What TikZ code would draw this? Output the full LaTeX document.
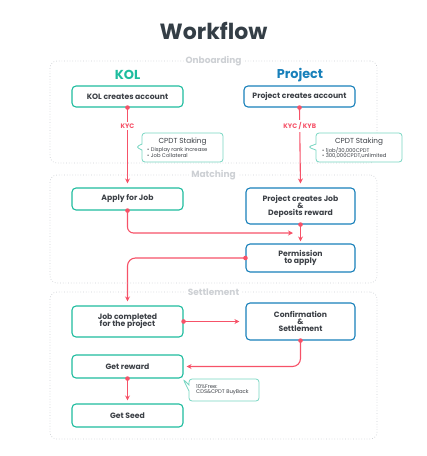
\documentclass[tikz,border=0pt]{standalone}
\usepackage{fontspec}
\setmainfont{Poppins}
\usetikzlibrary{arrows.meta,shapes.callouts,calc}
\definecolor{tealc}{RGB}{30,188,158}
\definecolor{bluec}{RGB}{24,128,186}
\definecolor{redc}{RGB}{246,82,104}
\definecolor{callc}{RGB}{120,214,194}
\definecolor{txt}{RGB}{60,64,70}
\definecolor{grp}{RGB}{205,208,212}
\definecolor{title}{RGB}{52,62,70}
\pgfdeclarelayer{bg}
\pgfsetlayers{bg,main}
\tikzset{
  boxk/.style={draw=tealc, line width=1.1pt, rounded corners=4pt, fill=white, align=center, text=txt, font=\fontsize{7.7}{8.8}\selectfont\bfseries, inner sep=1pt},
  boxp/.style={boxk, draw=bluec},
  grpbox/.style={draw=grp, dotted, line width=0.7pt, rounded corners=7pt},
  grplabel/.style={fill=white, text=grp, font=\fontsize{9}{10}\selectfont\bfseries, inner sep=2pt},
  arr/.style={draw=redc, line width=1.1pt, -{Stealth[length=5pt,width=5pt]}},
  dotc/.style={fill=redc},
  redlab/.style={fill=white, text=redc, font=\fontsize{6.5}{7}\selectfont\bfseries, inner sep=2pt},
  call/.style={rectangle callout, draw=callc, line width=0.8pt, rounded corners=3pt, fill=white, callout pointer width=6pt},
  callhead/.style={text=txt, font=\fontsize{7.3}{8}\selectfont, inner sep=0pt},
  callbul/.style={text=txt, font=\fontsize{5.3}{6}\selectfont, inner sep=0pt, anchor=west},
}
\begin{document}
\begin{tikzpicture}[x=1pt,y=-1pt]
\useasboundingbox (0,0) rectangle (427,456);
% title
\node[text=title, font=\fontsize{22}{24}\selectfont\bfseries] (ttl) at (213.5,31) {Workflow};
% groups
\node[grpbox, minimum width=327pt, minimum height=102pt] (g1) at (213.5,112) {};
\node[grplabel] (g1l) at (213.5,61) {Onboarding};
\node[grpbox, minimum width=327pt, minimum height=108pt] (g2) at (213.5,229) {};
\node[grplabel] (g2l) at (213.5,175) {Matching};
\node[grpbox, minimum width=327pt, minimum height=147pt] (g3) at (213.5,365.5) {};
\node[grplabel] (g3l) at (213.5,292) {Settlement};
% headers
\node[text=tealc, font=\fontsize{13}{14}\selectfont\bfseries] (kol) at (127.5,75) {KOL};
\node[text=bluec, font=\fontsize{12.8}{14}\selectfont\bfseries] (proj) at (300,75) {Project};
% boxes
\node[boxk, minimum width=111pt, minimum height=21pt] (kacc) at (127.5,96.5) {KOL creates account};
\node[boxp, minimum width=111pt, minimum height=21pt] (pacc) at (299.5,96.5) {Project creates account};
\node[boxk, minimum width=111pt, minimum height=22pt] (apply) at (127.5,199) {Apply for Job};
\node[boxp, minimum width=109pt, minimum height=36pt] (pjob) at (300.5,206) {Project creates Job\\[-1.8pt]\&\\[-1.8pt]Deposits reward};
\node[boxp, minimum width=109pt, minimum height=28pt] (perm) at (300.5,258) {Permission\\[-1.5pt]to apply};
\node[boxk, minimum width=111pt, minimum height=31pt] (jobc) at (127.5,321.5) {Job completed\\[-1.5pt]for the project};
\node[boxp, minimum width=109pt, minimum height=37pt] (conf) at (300.5,321.5) {Confirmation\\[-1.8pt]\&\\[-1.8pt]Settlement};
\node[boxk, minimum width=111pt, minimum height=23pt] (rew) at (127.5,366.5) {Get reward};
\node[boxk, minimum width=111pt, minimum height=23pt] (seed) at (127.5,415.5) {Get Seed};
% callouts
\node[call, minimum width=81pt, minimum height=29pt, callout absolute pointer={(136,147)}] (c1) at (182.5,147.5) {};
\node[callhead] (c1h) at (182.5,141.5) {CPDT Staking};
\node[callbul] (c1a) at (147,150.5) {\textbullet\ Display rank increase};
\node[callbul] (c1b) at (147,155.5) {\textbullet\ Job Collateral};
\node[call, minimum width=86pt, minimum height=29pt, callout absolute pointer={(308,147)}] (c2) at (359,147.5) {};
\node[callhead] (c2h) at (359,141.5) {CPDT Staking};
\node[callbul] (c2a) at (322,150.5) {\textbullet\ 1job/30,000CPDT};
\node[callbul] (c2b) at (322,155.5) {\textbullet\ 300,000CPDT,unlimited};
\node[call, minimum width=70pt, minimum height=22pt, callout absolute pointer={(183,379)}] (c3) at (224,390) {};
\node[callbul] (c3a) at (196,387) {10\%Free:};
\node[callbul] (c3b) at (196,392.5) {CDS\&CPDT BuyBack};
% connectors
\coordinate (m1) at (293,233);
\begin{pgfonlayer}{bg}
\draw[arr, shorten >=4pt] (kacc.south) -- node[redlab, pos=0.23] (kyc) {KYC} (apply.north);
\draw[arr, shorten >=4pt] (pacc.south) -- node[redlab, pos=0.23] (kyb) {KYC / KYB} (pjob.north);
\draw[arr, rounded corners=6pt] (apply.south) |- (m1);
\draw[arr, shorten >=2pt] (pjob.south) -- (perm.north);
\draw[arr, rounded corners=8pt, shorten >=4pt] (perm.west) -| (jobc.north);
\draw[arr, shorten >=6pt] (jobc.east) -- (conf.west);
\draw[arr, rounded corners=8pt, shorten >=3pt] (conf.south) |- (rew.east);
\draw[arr, shorten >=3pt] (rew.south) -- (seed.north);
\end{pgfonlayer}
\foreach \p in {kacc.south,pacc.south,apply.south,pjob.south,perm.west,jobc.east,conf.south,rew.south}
  \fill[dotc] (\p) circle (2.3pt);
\end{tikzpicture}
\end{document}
